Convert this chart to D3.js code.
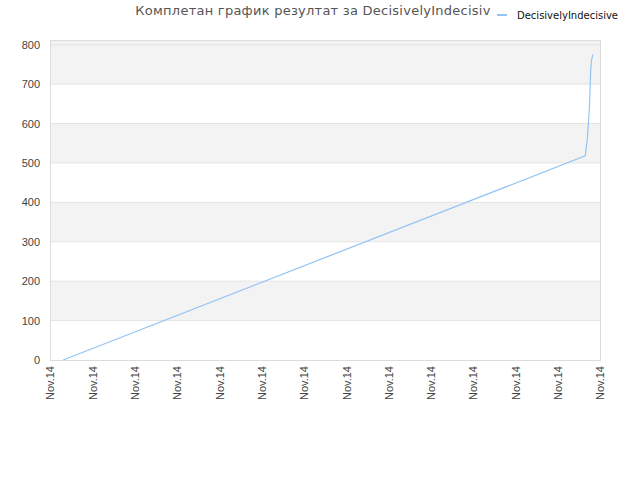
<!DOCTYPE html>
<html>
<head>
<meta charset="utf-8">
<script src="https://cdn.jsdelivr.net/npm/d3@7"></script>
<style>
  body { margin: 0; background: #fff; }
  svg { font-family: "DejaVu Sans", Verdana, sans-serif; }
</style>
</head>
<body>
<div id="chart"></div>
<script>
// data: x is position along the time axis (in tick steps)
const tickLabels = ['Nov.14', 'Nov.14', 'Nov.14', 'Nov.14', 'Nov.14', 'Nov.14', 'Nov.14',
  'Nov.14', 'Nov.14', 'Nov.14', 'Nov.14', 'Nov.14', 'Nov.14', 'Nov.14'];
const xValues = [0.31, 12.65, 12.70, 12.75, 12.77, 12.78, 12.80, 12.83];
const scores = [0, 518, 560, 640, 702, 736, 760, 775];
const seriesName = 'DecisivelyIndecisive';
const yTicks = [0, 100, 200, 300, 400, 500, 600, 700, 800];

const margin = { top: 40, right: 40, bottom: 120, left: 50 };
const width = 640 - margin.left - margin.right;
const height = 480 - margin.top - margin.bottom;

const svg = d3
  .select('#chart')
  .append('svg')
  .attr('width', 640)
  .attr('height', 480)
  .append('g')
  .attr('transform', `translate(${margin.left},${margin.top})`);

const x = d3.scaleLinear().domain([0, tickLabels.length - 1]).range([0, width]);
const y = d3.scaleLinear().domain([0, 812]).range([height, 0]);

// alternating bands
const bands = [[100, 200], [300, 400], [500, 600], [700, 812]];
svg
  .selectAll('.band')
  .data(bands)
  .enter()
  .append('rect')
  .attr('x', 0)
  .attr('width', width)
  .attr('y', (d) => y(d[1]))
  .attr('height', (d) => y(d[0]) - y(d[1]))
  .style('fill', '#f3f3f3');

// grid lines
svg
  .selectAll('.grid')
  .data(yTicks.slice(1))
  .enter()
  .append('line')
  .attr('x1', 0)
  .attr('x2', width)
  .attr('y1', (d) => y(d))
  .attr('y2', (d) => y(d))
  .style('stroke', '#e4e4e4');

// frame
svg
  .append('rect')
  .attr('x', 0.5)
  .attr('y', 0.5)
  .attr('width', width)
  .attr('height', height)
  .style('fill', 'none')
  .style('stroke', '#dcdcdc');

// Y axis
const yAxis = svg
  .append('g')
  .call(d3.axisLeft(y).tickValues(yTicks).tickSize(0).tickPadding(10));
yAxis.select('.domain').remove();
yAxis.selectAll('text').style('font-size', '11px').style('fill', '#444');

// X axis
const xAxis = svg
  .append('g')
  .attr('transform', `translate(0,${height})`)
  .call(
    d3.axisBottom(x)
      .tickValues(d3.range(tickLabels.length))
      .tickFormat((d) => tickLabels[d])
      .tickSize(0),
  );
xAxis.select('.domain').remove();
xAxis
  .selectAll('text')
  .attr('transform', 'rotate(-90)')
  .attr('x', -6)
  .attr('y', 0)
  .attr('dy', '0.35em')
  .style('text-anchor', 'end')
  .style('font-size', '11px')
  .style('fill', '#444');

// line
const points = xValues.map((v, i) => [v, scores[i]]);
svg
  .append('path')
  .datum(points)
  .attr('d', d3.line().x((d) => x(d[0])).y((d) => y(d[1])))
  .style('fill', 'none')
  .style('stroke', '#94c4f4')
  .style('stroke-width', 1.2);

// title
svg
  .append('text')
  .attr('x', 263)
  .attr('y', -25)
  .attr('text-anchor', 'middle')
  .style('font-size', '13px')
  .style('letter-spacing', '0.25px')
  .style('fill', '#555')
  .text('Комплетан график резултат за DecisivelyIndecisiv');

// legend
const legend = svg.append('g').attr('transform', `translate(${497 - margin.left},${15 - margin.top})`);
legend
  .append('line')
  .attr('x1', 0)
  .attr('x2', 10)
  .attr('y1', 0)
  .attr('y2', 0)
  .style('stroke', '#94c4f4')
  .style('stroke-width', 2);
legend
  .append('text')
  .attr('x', 20)
  .attr('y', 4)
  .style('font-size', '10px')
  .style('fill', '#111')
  .text(seriesName);
</script>
</body>
</html>
